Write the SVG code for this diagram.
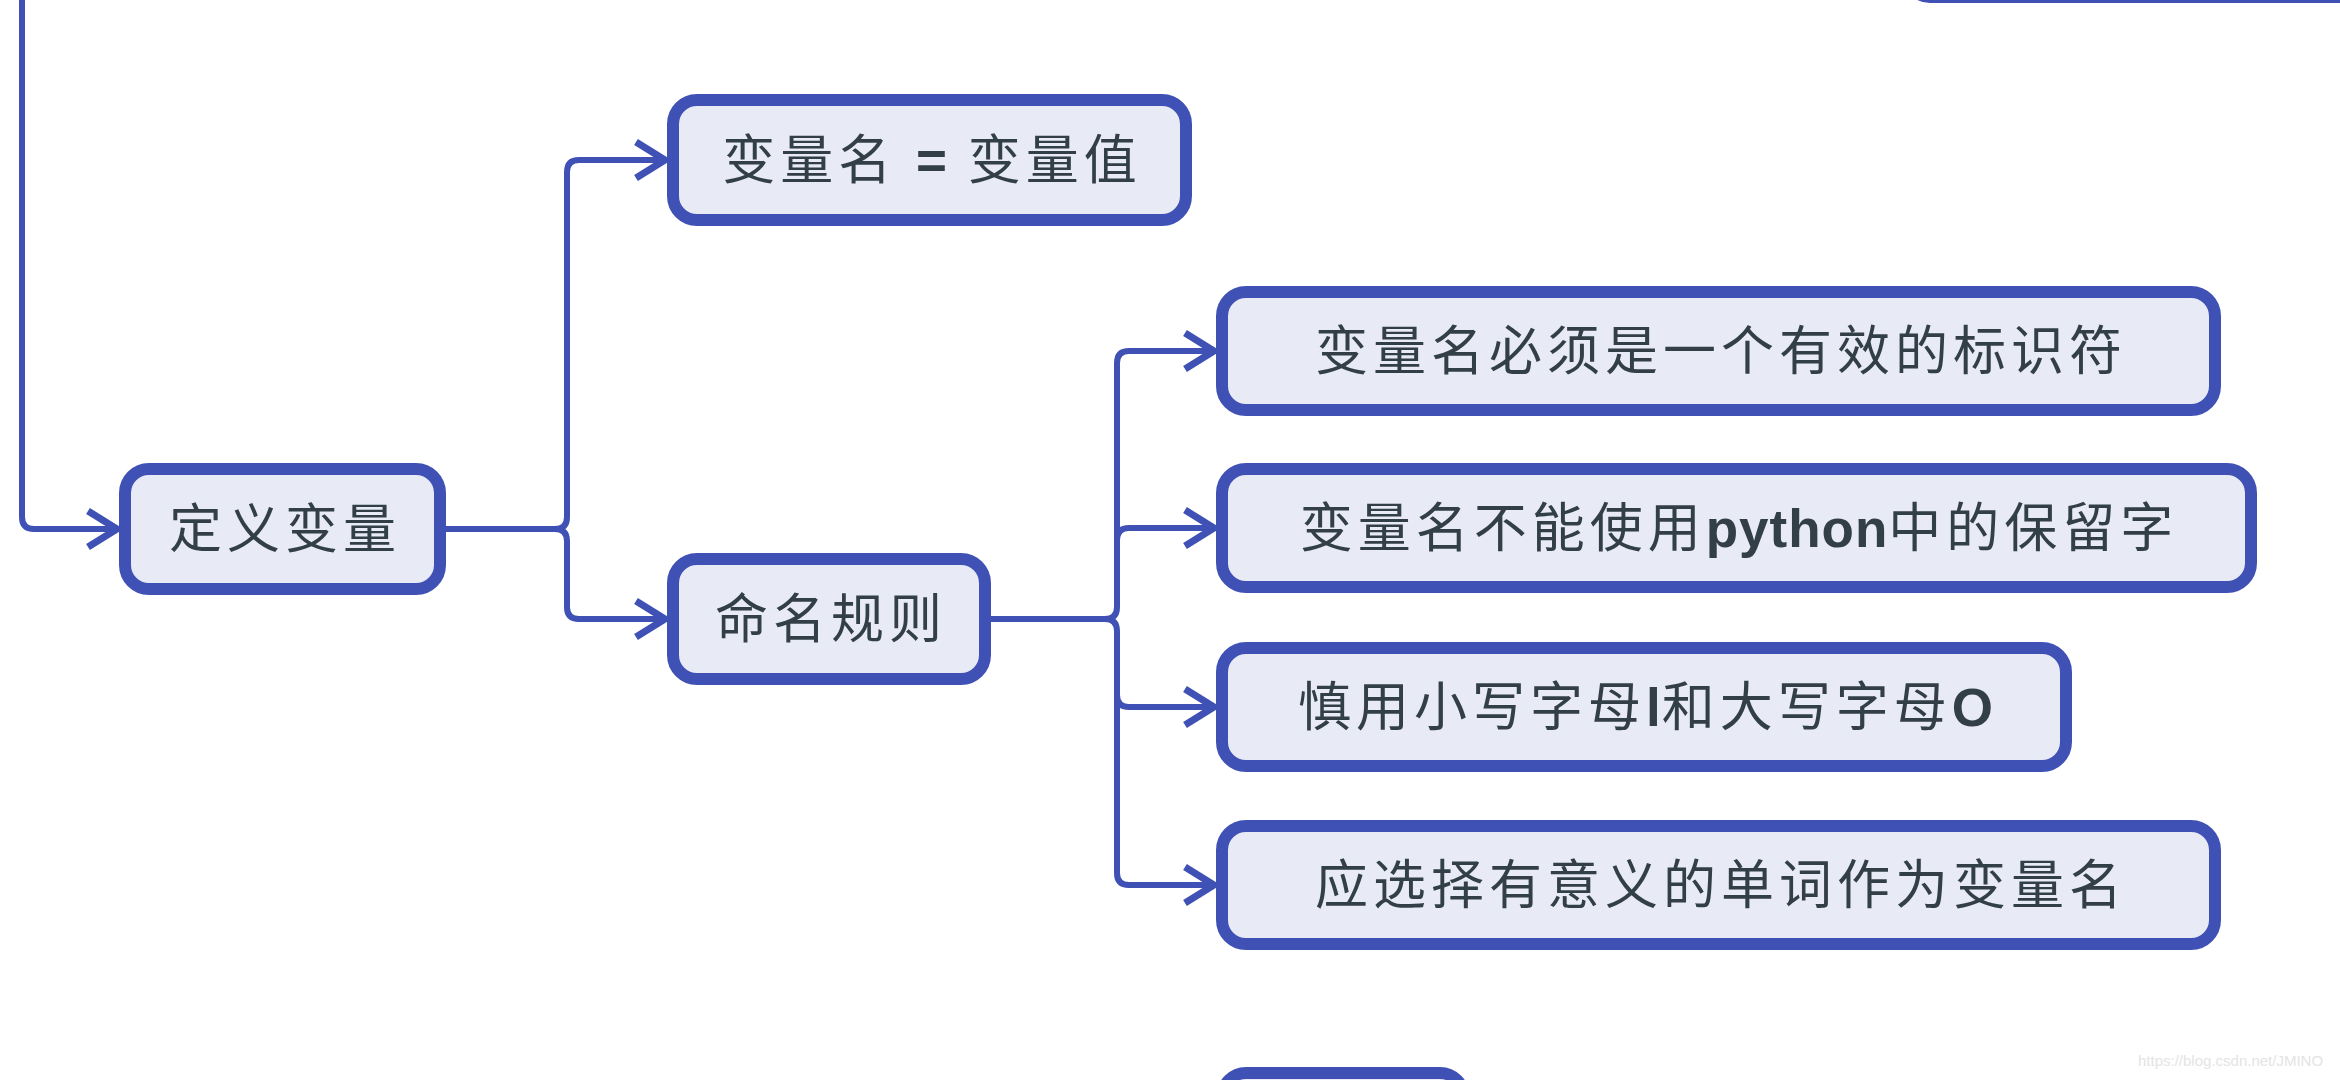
<svg xmlns="http://www.w3.org/2000/svg" width="2340" height="1080" viewBox="0 0 2340 1080">
<defs>
<style>
.box{fill:#e8eaf6;stroke:#3f51b5;stroke-width:12}
.ln{fill:none;stroke:#3f51b5;stroke-width:6;stroke-linecap:round;stroke-linejoin:round}
.ah{fill:none;stroke:#3f51b5;stroke-width:7;stroke-linecap:butt;stroke-linejoin:miter}
.t{font-family:"Liberation Sans","Noto Sans CJK SC",sans-serif;font-size:53px;fill:#333f47;text-anchor:middle;letter-spacing:5px}
.b{font-weight:bold;letter-spacing:1px}
.wm{font-family:"Liberation Sans",sans-serif;font-size:15px;fill:#e4e4e4}
</style>
</defs>
<rect x="0" y="0" width="2340" height="1080" fill="#ffffff"/>
<g id="connectors">
<path class="ln" d="M22,-5 V517 Q22,529 34,529 H116"/>
<path class="ah" d="M88,511 L117,529 L88,547"/>
<path class="ln" d="M446,529 H555 Q567,529 567,517 V172 Q567,160 579,160 H664"/>
<path class="ln" d="M555,529 Q567,529 567,541 V607 Q567,619 579,619 H664"/>
<path class="ah" d="M636,142 L665,160 L636,178"/>
<path class="ah" d="M636,601 L665,619 L636,637"/>
<path class="ln" d="M991,619 H1105 Q1117,619 1117,607 V363 Q1117,351 1129,351 H1213"/>
<path class="ln" d="M1117,540 Q1117,528 1129,528 H1213"/>
<path class="ln" d="M1105,619 Q1117,619 1117,631 V873 Q1117,885 1129,885 H1213"/>
<path class="ln" d="M1117,695 Q1117,707 1129,707 H1213"/>
<path class="ah" d="M1185,333 L1214,351 L1185,369"/>
<path class="ah" d="M1185,510 L1214,528 L1185,546"/>
<path class="ah" d="M1185,689 L1214,707 L1185,725"/>
<path class="ah" d="M1185,867 L1214,885 L1185,903"/>
</g>
<g id="node-top-right">
<rect class="box" x="1908" y="-150" width="500" height="147" rx="22"/>
</g>
<g id="node-dingyi">
<rect class="box" x="125" y="469" width="315" height="120" rx="24"/>
<text class="t" x="285" y="548">定义变量</text>
</g>
<g id="node-assign">
<rect class="box" x="673" y="100" width="513" height="120" rx="24"/>
<text class="t" x="932" y="179">变量名 <tspan class="b">=</tspan> 变量值</text>
</g>
<g id="node-rules">
<rect class="box" x="673" y="559" width="312" height="120" rx="24"/>
<text class="t" x="831" y="638">命名规则</text>
</g>
<g id="node-r1">
<rect class="box" x="1222" y="292" width="993" height="118" rx="24"/>
<text class="t" x="1721" y="370">变量名必须是一个有效的标识符</text>
</g>
<g id="node-r2">
<rect class="box" x="1222" y="469" width="1029" height="118" rx="24"/>
<text class="t" x="1739" y="547">变量名不能使用<tspan class="b">python</tspan>中的保留字</text>
</g>
<g id="node-r3">
<rect class="box" x="1222" y="648" width="844" height="118" rx="24"/>
<text class="t" x="1646" y="726">慎用小写字母<tspan class="b">l</tspan>和大写字母<tspan class="b">O</tspan></text>
</g>
<g id="node-r4">
<rect class="box" x="1222" y="826" width="993" height="118" rx="24"/>
<text class="t" x="1721" y="904">应选择有意义的单词作为变量名</text>
</g>
<g id="node-bottom">
<rect class="box" x="1222" y="1073" width="242" height="120" rx="24"/>
</g>
<text class="wm" x="2138" y="1066">https://blog.csdn.net/JMINO</text>
</svg>
